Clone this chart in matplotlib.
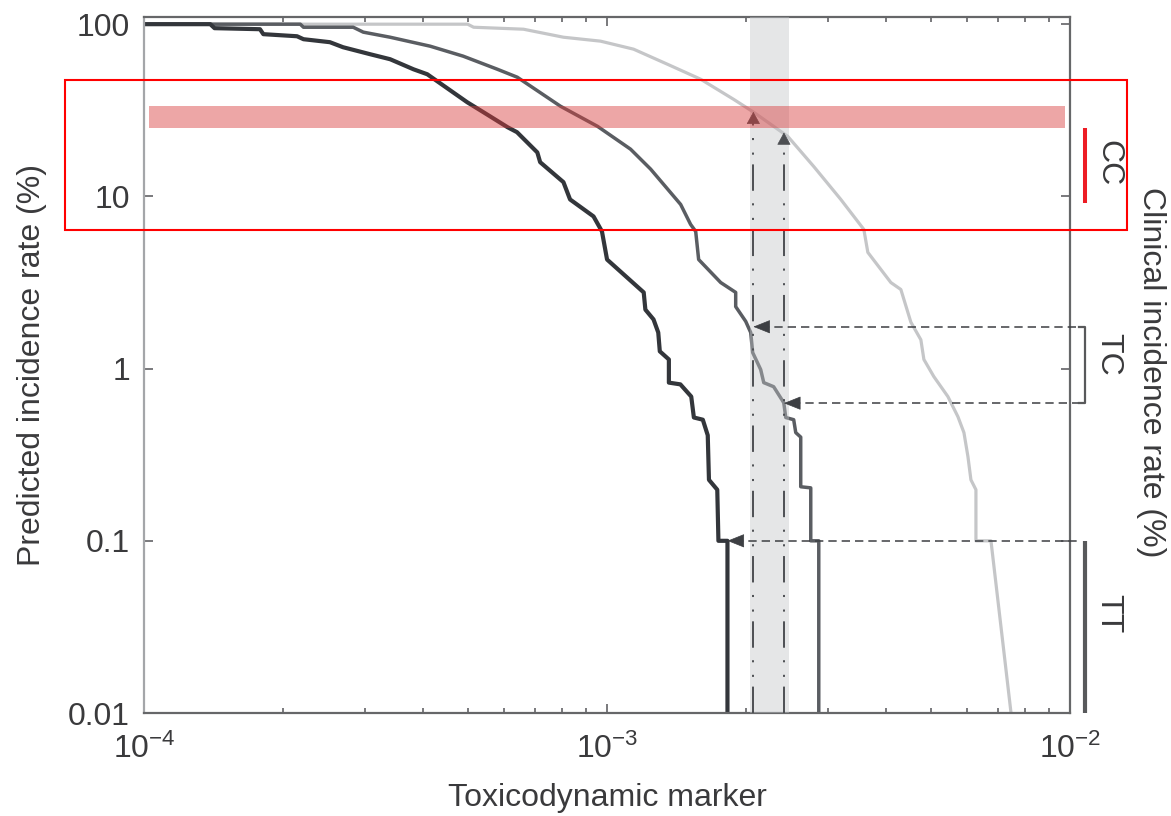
import numpy as np
import matplotlib
matplotlib.use("Agg")
import matplotlib.pyplot as plt
from matplotlib.patches import Rectangle
from matplotlib.ticker import (LogLocator, NullLocator, NullFormatter,
                               FixedLocator, FixedFormatter)
from matplotlib.transforms import blended_transform_factory

plt.rcParams["font.family"] = ["Liberation Sans", "DejaVu Sans"]
plt.rcParams["mathtext.fontset"] = "custom"
plt.rcParams["mathtext.rm"] = "Liberation Sans"
plt.rcParams["mathtext.it"] = "Liberation Sans"
plt.rcParams["mathtext.sf"] = "Liberation Sans"
plt.rcParams["lines.scale_dashes"] = False

# predicted incidence (%) vs toxicodynamic marker, one curve per genotype
tt_marker = [1.00e-4, 1.39e-4, 1.42e-4, 1.78e-4, 1.81e-4, 2.14e-4, 2.21e-4, 2.52e-4,
             2.69e-4, 3.08e-4, 3.40e-4, 3.82e-4, 4.09e-4, 4.99e-4, 5.41e-4, 6.10e-4,
             6.39e-4, 7.07e-4, 7.17e-4, 8.05e-4, 8.32e-4, 9.35e-4, 9.75e-4, 1.00e-3,
             1.20e-3, 1.21e-3, 1.26e-3, 1.29e-3, 1.30e-3, 1.36e-3, 1.36e-3, 1.44e-3,
             1.52e-3, 1.54e-3, 1.61e-3, 1.65e-3, 1.66e-3, 1.73e-3, 1.74e-3, 1.82e-3,
             1.82e-3]
tt_rate = [100, 100, 94.8, 93.5, 87.5, 85.1, 81.8, 78.6,
           73.5, 66.9, 62.6, 54.7, 51.2, 35.2, 30.8, 25.2,
           23.6, 18.0, 15.8, 12.1, 9.6, 7.65, 6.26, 4.30,
           2.77, 2.20, 1.93, 1.62, 1.26, 1.13, 0.829, 0.81,
           0.688, 0.52, 0.505, 0.41, 0.226, 0.198, 0.1, 0.1,
           0.01]

tc_marker = [1.00e-4, 2.175e-4, 2.21e-4, 2.83e-4, 2.975e-4, 3.40e-4, 4.15e-4, 4.89e-4,
             5.80e-4, 6.40e-4, 7.93e-4, 9.54e-4, 1.124e-3, 1.242e-3, 1.442e-3, 1.515e-3,
             1.554e-3, 1.577e-3, 1.760e-3, 1.896e-3, 1.896e-3, 1.993e-3, 2.043e-3, 2.063e-3,
             2.147e-3, 2.180e-3, 2.29e-3, 2.408e-3, 2.432e-3, 2.530e-3, 2.556e-3, 2.62e-3,
             2.62e-3, 2.754e-3, 2.754e-3, 2.866e-3, 2.866e-3]
tc_rate = [100, 100, 96.0, 96.0, 89.9, 84.0, 74.5, 65.2,
           54.7, 49.2, 33.4, 25.5, 18.8, 14.4, 8.98, 6.88,
           6.26, 4.30, 3.16, 2.77, 2.29, 1.88, 1.62, 1.24,
           0.987, 0.829, 0.785, 0.634, 0.52, 0.505, 0.425, 0.40,
           0.206, 0.203, 0.1, 0.1, 0.01]

cc_marker = [1.00e-4, 5.00e-4, 5.15e-4, 6.60e-4, 8.05e-4, 9.68e-4, 1.141e-3, 1.351e-3,
             1.593e-3, 1.877e-3, 2.074e-3, 2.457e-3, 2.796e-3, 3.197e-3, 3.586e-3, 3.658e-3,
             4.102e-3, 4.311e-3, 4.531e-3, 4.762e-3, 4.834e-3, 5.08e-3, 5.447e-3, 5.725e-3,
             5.899e-3, 6.018e-3, 6.108e-3, 6.262e-3, 6.262e-3, 6.748e-3, 7.456e-3]
cc_rate = [100, 100, 96.0, 93.5, 84.0, 79.7, 71.6, 58.5,
           47.9, 36.6, 30.8, 22.3, 14.9, 9.61, 6.43, 4.73,
           3.16, 2.88, 1.86, 1.47, 1.13, 0.898, 0.688, 0.526,
           0.425, 0.308, 0.226, 0.198, 0.1, 0.1, 0.01]

# marker window and readouts
window = (2.04e-3, 2.47e-3)
probe_markers = [2.07e-3, 2.41e-3]
cc_hits = [31.0, 23.5]
readout_markers = [2.07e-3, 2.41e-3, 1.82e-3]
readout_rates = [1.75, 0.63, 0.1]
target_band = (25.0, 33.5)

# clinical incidence ranges per genotype
clinical_labels = ["CC", "TC", "TT"]
clinical_ranges = [(25.0, 9.2), (1.75, 0.63), (0.1, 0.01)]
clinical_text_y = [15.6, 1.21, 0.038]

y_ticks = [0.01, 0.1, 1, 10, 100]
y_tick_labels = ["0.01", "0.1", "1", "10", "100"]

text_color = "#3a3a3c"
arrow_color = "#4d4f53"

fig = plt.figure(figsize=(11.71, 8.16), dpi=100)
ax = fig.add_axes([0.123, 0.1262, 0.7908, 0.8529])

ax.plot(cc_marker, cc_rate, color="#c5c6c8", lw=2.3, zorder=2)
ax.plot(tc_marker, tc_rate, color="#5a5d62", lw=2.5, zorder=2)
ax.plot(tt_marker, tt_rate, color="#33363b", lw=3.0, zorder=2)

ax.set_xscale("log")
ax.set_yscale("log")
ax.set_xlim(1e-4, 1e-2)
ax.set_ylim(0.01, 110)

ax.axvspan(window[0], window[1], color="#c3c5c8", alpha=0.42, lw=0, zorder=3)

dashdotdot = (0, (19, 7, 1.5, 9, 1.5, 9))
for x, top in zip(probe_markers, cc_hits):
    ax.plot([x, x], [0.01, top * 0.9], ls=dashdotdot, color=arrow_color, lw=1.4, zorder=4)
    ax.annotate("", xy=(x, top), xytext=(0, -8), textcoords="offset points",
                arrowprops=dict(arrowstyle="-|>,head_length=0.4,head_width=0.22",
                                mutation_scale=20, color=arrow_color, lw=0.5,
                                shrinkA=0, shrinkB=0), zorder=4)

x_edge = 10 ** (np.log10(1e-2) + 0.009 * 2)
for x, y in zip(readout_markers, readout_rates):
    ax.plot([x * 1.04, x_edge], [y, y], ls=(0, (6, 3.6)), color="#3d3f43", lw=1.1,
            zorder=4, clip_on=False)
    ax.annotate("", xy=(x, y), xytext=(11, 0), textcoords="offset points",
                arrowprops=dict(arrowstyle="-|>,head_length=0.55,head_width=0.22",
                                mutation_scale=20, color="#3d3f43", lw=0.5,
                                shrinkA=0, shrinkB=0), zorder=4)

ax.axhspan(target_band[0], target_band[1], xmin=0.0054, xmax=0.9946,
           color="#d93a3a", alpha=0.45, lw=0, zorder=5)

# genotype ranges outside the right spine
trans = blended_transform_factory(ax.transAxes, ax.transData)
bar_x = 1.0165
ax.plot([bar_x, bar_x], clinical_ranges[0], transform=trans, color="#ed1c24",
        lw=2.9, clip_on=False, solid_capstyle="butt")
hi, lo = clinical_ranges[1]
ax.plot([1.010, bar_x, bar_x, 1.010], [hi, hi, lo, lo], transform=trans,
        color="#58595b", lw=1.6, clip_on=False)
ax.plot([bar_x, bar_x], clinical_ranges[2], transform=trans, color="#58595b",
        lw=3.0, clip_on=False, solid_capstyle="butt")
for lab, ty in zip(clinical_labels, clinical_text_y):
    ax.text(1.041, ty, lab, transform=trans, rotation=270, ha="center", va="center",
            fontsize=23, color=text_color)

ax.text(1.0875, 0.49, "Clinical incidence rate (%)", transform=ax.transAxes,
        rotation=270, ha="center", va="center", fontsize=23, color=text_color)

# axes styling
ax.xaxis.set_major_locator(LogLocator(base=10, numticks=10))
ax.xaxis.set_minor_locator(LogLocator(base=10, subs=np.arange(2, 10), numticks=20))
ax.xaxis.set_minor_formatter(NullFormatter())
ax.yaxis.set_major_locator(FixedLocator(y_ticks))
ax.yaxis.set_major_formatter(FixedFormatter(y_tick_labels))
ax.yaxis.set_minor_locator(NullLocator())

ax.tick_params(which="both", direction="in", top=True, right=True,
               color="#555558", width=1.1, labelsize=23, labelcolor=text_color)
ax.tick_params(which="major", length=6.5)
ax.tick_params(which="minor", length=3.6)
ax.tick_params(axis="y", pad=10)
ax.tick_params(axis="x", pad=15)

for side, sp in ax.spines.items():
    sp.set_linewidth(1.6)
    sp.set_color("#666769")
ax.spines["left"].set_color("#a4a6a9")

ax.set_xlabel("Toxicodynamic marker", fontsize=23, color=text_color)
ax.xaxis.set_label_coords(0.5, -0.1)
ax.set_ylabel("Predicted incidence rate (%)", fontsize=23, color=text_color)
ax.yaxis.set_label_coords(-0.105, 0.5)

# highlight frame around the target band
fig.patches.append(Rectangle((0.0555, 0.7181), 0.9069, 0.1838, transform=fig.transFigure,
                             fill=False, ec="#ff0000", lw=1.5))

fig.savefig("out.png", dpi=100)
